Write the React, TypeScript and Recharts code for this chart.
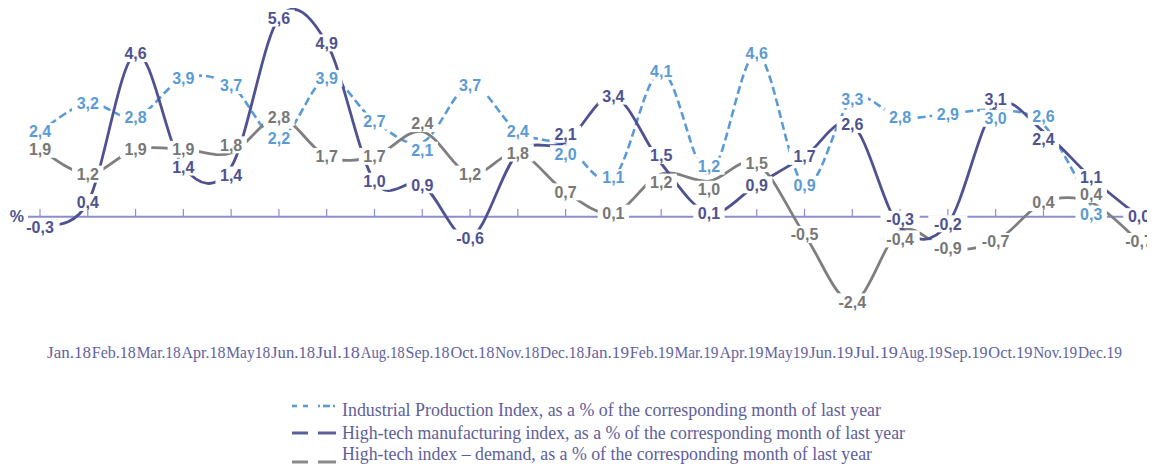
import React from 'react';
import { LineChart, Line, XAxis, YAxis, ReferenceLine } from 'recharts';

const months = ['Jan.18', 'Feb.18', 'Mar.18', 'Apr.18', 'May18', 'Jun.18', 'Jul.18', 'Aug.18', 'Sep.18', 'Oct.18', 'Nov.18', 'Dec.18', 'Jan.19', 'Feb.19', 'Mar.19', 'Apr.19', 'May19', 'Jun.19', 'Jul.19', 'Aug.19', 'Sep.19', 'Oct.19', 'Nov.19', 'Dec.19'];
const industrialIndex: (number | null)[] = [2.4, 3.2, 2.8, 3.9, 3.7, 2.2, 3.9, 2.7, 2.1, 3.7, 2.4, 2.0, 1.1, 4.1, 1.2, 4.6, 0.9, 3.3, 2.8, 2.9, 3.0, 2.6, 0.3, null];
const hightechManufacturing: (number | null)[] = [-0.3, 0.4, 4.6, 1.4, 1.4, 5.6, 4.9, 1.0, 0.9, -0.6, 1.8, 2.1, 3.4, 1.5, 0.1, 0.9, 1.7, 2.6, -0.3, -0.2, 3.1, 2.4, 1.1, 0.0];
const hightechDemand: (number | null)[] = [1.9, 1.2, 1.9, 1.9, 1.8, 2.8, 1.7, 1.7, 2.4, 1.2, 1.8, 0.7, 0.1, 1.2, 1.0, 1.5, -0.5, -2.4, -0.4, -0.9, -0.7, 0.4, 0.4, -0.7];
const legendLabels = [
  'Industrial Production Index, as a % of the corresponding month of last year',
  'High-tech manufacturing index, as a % of the corresponding month of last year',
  'High-tech index \u2013 demand, as a % of the corresponding month of last year',
];

const data = months.map((m, i) => ({
  month: m,
  ind: industrialIndex[i],
  mfg: hightechManufacturing[i],
  dem: hightechDemand[i],
}));

const BLUE = '#5b9bd5';
const NAVY = '#4e5290';
const GRAY = '#7f7f7f';
const AXIS = '#8c8cd0';
const TEXT = '#6262a0';

// Excel-like smoothed line (Catmull-Rom through the points)
const excelSmooth = (context: any) => {
  let pts: number[][] = [];
  return {
    areaStart() {},
    areaEnd() {},
    lineStart() {
      pts = [];
    },
    point(x: number, y: number) {
      pts.push([+x, +y]);
    },
    lineEnd() {
      const n = pts.length;
      if (!n) return;
      context.moveTo(pts[0][0], pts[0][1]);
      if (n === 1) return;
      const t = 1 / 6;
      for (let i = 0; i < n - 1; i++) {
        const p0 = pts[i - 1] || pts[i];
        const p1 = pts[i];
        const p2 = pts[i + 1];
        const p3 = pts[i + 2] || p2;
        context.bezierCurveTo(
          p1[0] + (p2[0] - p0[0]) * t,
          p1[1] + (p2[1] - p0[1]) * t,
          p2[0] - (p3[0] - p1[0]) * t,
          p2[1] - (p3[1] - p1[1]) * t,
          p2[0],
          p2[1]
        );
      }
    },
  };
};

type Key = 'ind' | 'mfg' | 'dem';
const seriesKeys: Key[] = ['ind', 'mfg', 'dem'];

// nudge labels apart when two series have nearly equal (but different) values
const labelShift = (key: Key, index: number) => {
  const row: any = data[index];
  const mine = row[key];
  if (mine == null) return 0;
  let shift = 0;
  seriesKeys.forEach((k) => {
    if (k === key) return;
    const o = row[k];
    if (o == null || o === mine) return;
    if (Math.abs(o - mine) < 0.45) shift = mine > o ? -8 : 8;
  });
  return shift;
};

const makeLabelDot = (key: Key, color: string) => (props: any) => {
  const { cx, cy, index, payload } = props;
  const value = payload ? payload[key] : null;
  if (value == null || cx == null || cy == null || isNaN(cx) || isNaN(cy)) {
    return <g key={`${key}-l-${index}`} />;
  }
  const txt = Number(value).toFixed(1).replace('.', ',');
  const w = txt.length * 7.8 + 8;
  const h = 17;
  const y = cy + labelShift(key, index);
  return (
    <g key={`${key}-l-${index}`}>
      <rect x={cx - w / 2} y={y - h / 2} width={w} height={h} fill="#ffffff" />
      <text
        x={cx}
        y={y}
        dy="0.36em"
        textAnchor="middle"
        fill={color}
        fontSize={16}
        fontWeight={700}
        fontFamily="'Liberation Sans', Arial, sans-serif"
      >
        {txt}
      </text>
    </g>
  );
};

const MonthTick = (props: any) => {
  const { x, y, payload } = props;
  return (
    <text
      x={x}
      y={y + 12}
      textAnchor="middle"
      fill={TEXT}
      fontSize={16}
      fontFamily="'Liberation Serif', 'Times New Roman', serif"
      textLength={44}
      lengthAdjust="spacingAndGlyphs"
    >
      {payload.value}
    </text>
  );
};

const legendItems = [
  { color: BLUE, text: legendLabels[0], base: 408, icon: 398, len: 539, dash: 'blue' },
  { color: '#5a5f99', text: legendLabels[1], base: 431, icon: 425, len: 563, dash: 'long' },
  { color: '#8a8a8a', text: legendLabels[2], base: 452, icon: 454, len: 530, dash: 'long' },
];

export default function App() {
  return (
    <div style={{ position: 'relative', width: 1147, height: 458 }}>
      <style>{'body{margin:8px 8px 0 8px;}'}</style>
      <LineChart width={1147} height={372} data={data} margin={{ top: 3, right: 4, left: 20, bottom: 0 }}>
        <XAxis dataKey="month" hide padding={{ left: 12, right: 12 }} />
        <XAxis
          xAxisId="labels"
          dataKey="month"
          height={64}
          axisLine={false}
          tickLine={false}
          tickSize={0}
          tickMargin={0}
          interval={0}
          padding={{ left: 41, right: 51 }}
          tick={<MonthTick />}
        />
        <YAxis hide domain={[-2.8, 5.8]} type="number" />
        <ReferenceLine
          y={0}
          stroke={AXIS}
          strokeWidth={2}
          label={{ value: '%', position: 'left', fill: NAVY, fontSize: 16, fontWeight: 700, fontFamily: "'Liberation Sans', Arial, sans-serif", offset: 4 }}
        />
        {months.map((m) => (
          <ReferenceLine
            key={`tick-${m}`}
            segment={[{ x: m, y: 0 }, { x: m, y: 0.22 }]}
            stroke={AXIS}
            strokeWidth={1.2}
          />
        ))}
        <Line dataKey="ind" type={excelSmooth as any} stroke={BLUE} strokeWidth={2.6} strokeDasharray="8 4" dot={false} activeDot={false} isAnimationActive={false} />
        <Line dataKey="dem" type={excelSmooth as any} stroke={GRAY} strokeWidth={2.8} dot={false} activeDot={false} isAnimationActive={false} />
        <Line dataKey="mfg" type={excelSmooth as any} stroke={NAVY} strokeWidth={2.8} dot={false} activeDot={false} isAnimationActive={false} />
        <Line dataKey="ind" stroke="none" dot={makeLabelDot('ind', BLUE)} activeDot={false} isAnimationActive={false} legendType="none" />
        <Line dataKey="mfg" stroke="none" dot={makeLabelDot('mfg', NAVY)} activeDot={false} isAnimationActive={false} legendType="none" />
        <Line dataKey="dem" stroke="none" dot={makeLabelDot('dem', '#777777')} activeDot={false} isAnimationActive={false} legendType="none" />
      </LineChart>
      <svg width={1147} height={458} style={{ position: 'absolute', left: 0, top: 0, pointerEvents: 'none' }}>
        {legendItems.map((it) => (
          <g key={it.text}>
            {it.dash === 'blue' ? (
              <g stroke={it.color} strokeWidth={2.6}>
                <line x1={284} y1={it.icon} x2={289} y2={it.icon} />
                <line x1={295} y1={it.icon} x2={300} y2={it.icon} />
                <line x1={310} y1={it.icon} x2={312} y2={it.icon} />
                <line x1={315} y1={it.icon} x2={322} y2={it.icon} />
                <line x1={325} y1={it.icon} x2={327} y2={it.icon} />
              </g>
            ) : (
              <g stroke={it.color} strokeWidth={3}>
                <line x1={284} y1={it.icon} x2={300} y2={it.icon} />
                <line x1={310} y1={it.icon} x2={328} y2={it.icon} />
              </g>
            )}
            <text
              x={334}
              y={it.base}
              fill="#5e5e9c"
              fontSize={19}
              fontFamily="'Liberation Serif', 'Times New Roman', serif"
              textLength={it.len}
              lengthAdjust="spacingAndGlyphs"
            >
              {it.text}
            </text>
          </g>
        ))}
      </svg>
    </div>
  );
}
